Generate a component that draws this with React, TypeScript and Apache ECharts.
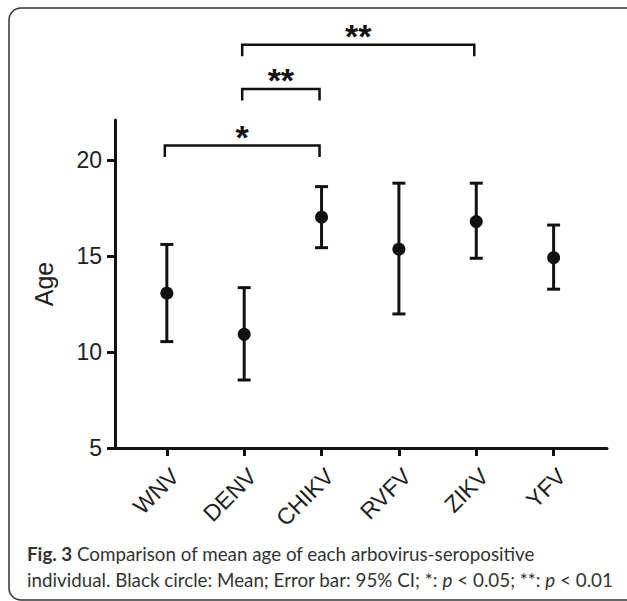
import React, { useEffect, useRef } from 'react';
import * as echarts from 'echarts';

const categories = ['WNV', 'DENV', 'CHIKV', 'RVFV', 'ZIKV', 'YFV'];
const meanAge = [13.06, 10.92, 17.02, 15.35, 16.79, 14.91];
const ciUpper = [15.6, 13.35, 18.61, 18.79, 18.79, 16.61];
const ciLower = [10.54, 8.54, 15.43, 11.98, 14.88, 13.27];
const yTicks = [5, 10, 15, 20];
const xTicks = [0, 1, 2, 3, 4, 5];
const bracketFrom = [0, 1, 1];
const bracketTo = [2, 2, 4];
const bracketLevel = [20.75, 23.7, 26.0];
const bracketMark = ['*', '**', '**'];
const yAxisTitle = 'Age';
const captionLine1 = '{b|Fig. 3} Comparison of mean age of each arbovirus-seropositive';
const captionLine2 = 'individual. Black circle: Mean; Error bar: 95% CI; *: {i|p} < 0.05; **: {i|p} < 0.01';

const INK = '#111';
const AXIS_FONT = 'Liberation Sans';
const CAPTION_FONT = 'Lato';
const CAPTION_SIZE = 18.8;

export default function App() {
  const ref = useRef<HTMLDivElement>(null);
  useEffect(() => {
    if (!ref.current) return;
    const chart = echarts.init(ref.current, undefined, { renderer: 'svg' });
    const option: any = {
      animation: false,
      backgroundColor: '#fff',
      grid: { left: 115, top: 120, width: 492, height: 328, containLabel: false },
      xAxis: {
        type: 'value',
        min: -0.67,
        max: 5.69,
        splitLine: { show: false },
        axisLine: { show: true, onZero: false, lineStyle: { color: INK, width: 3 } },
        axisTick: { show: true, customValues: xTicks, length: 8, lineStyle: { color: INK, width: 3 } },
        axisLabel: {
          customValues: xTicks,
          formatter: (v: number) => categories[Math.round(v)] ?? '',
          rotate: 45,
          align: 'right',
          verticalAlign: 'top',
          margin: 16,
          fontSize: 23,
          fontFamily: AXIS_FONT,
          color: '#222',
        },
      },
      yAxis: {
        type: 'value',
        min: 5,
        max: 22.08,
        interval: 5,
        splitLine: { show: false },
        axisLine: { show: true, onZero: false, lineStyle: { color: INK, width: 3 } },
        axisTick: { show: true, customValues: yTicks, length: 8, lineStyle: { color: INK, width: 3 } },
        axisLabel: {
          customValues: yTicks,
          margin: 13,
          fontSize: 23,
          fontFamily: AXIS_FONT,
          color: '#222',
        },
      },
      graphic: [
        {
          type: 'rect',
          shape: { x: 9, y: 8, width: 700, height: 592, r: 12 },
          style: { fill: 'none', stroke: '#333', lineWidth: 1.5 },
          silent: true,
        },
        {
          type: 'text',
          x: 44,
          y: 284,
          rotation: Math.PI / 2,
          style: {
            text: yAxisTitle,
            fontSize: 25,
            fontFamily: AXIS_FONT,
            fill: '#222',
            align: 'center',
            verticalAlign: 'middle',
          },
        },
        {
          type: 'text',
          x: 27,
          y: 553,
          style: {
            text: captionLine1,
            fontSize: CAPTION_SIZE,
            fontFamily: CAPTION_FONT,
            fill: '#333',
            align: 'left',
            verticalAlign: 'middle',
            rich: {
              b: { fontSize: CAPTION_SIZE, fontFamily: CAPTION_FONT, fontWeight: 'bold', fill: '#333' },
            },
          },
        },
        {
          type: 'text',
          x: 27,
          y: 579,
          style: {
            text: captionLine2,
            fontSize: CAPTION_SIZE,
            fontFamily: CAPTION_FONT,
            fill: '#333',
            align: 'left',
            verticalAlign: 'middle',
            rich: {
              i: { fontSize: CAPTION_SIZE, fontFamily: CAPTION_FONT, fontStyle: 'italic', fill: '#333' },
            },
          },
        },
      ],
      series: [
        {
          type: 'custom',
          name: 'CI',
          data: categories.map((_, i) => [i, ciLower[i], ciUpper[i]]),
          encode: { x: 0, y: [1, 2] },
          renderItem: (_params: any, api: any) => {
            const x = api.value(0);
            const lo = api.coord([x, api.value(1)]);
            const hi = api.coord([x, api.value(2)]);
            const w = 6.5;
            const style = { stroke: INK, lineWidth: 3, fill: 'none' };
            return {
              type: 'group',
              children: [
                { type: 'line', shape: { x1: lo[0], y1: lo[1], x2: hi[0], y2: hi[1] }, style },
                { type: 'line', shape: { x1: hi[0] - w, y1: hi[1], x2: hi[0] + w, y2: hi[1] }, style },
                { type: 'line', shape: { x1: lo[0] - w, y1: lo[1], x2: lo[0] + w, y2: lo[1] }, style },
              ],
            };
          },
          z: 2,
        },
        {
          type: 'scatter',
          name: 'Mean',
          data: categories.map((_, i) => [i, meanAge[i]]),
          symbol: 'circle',
          symbolSize: 13,
          itemStyle: { color: INK, opacity: 1 },
          z: 3,
        },
        {
          type: 'custom',
          name: 'Significance',
          clip: false,
          data: bracketFrom.map((f, i) => [f, bracketTo[i], bracketLevel[i], i]),
          encode: { x: [0, 1], y: 2 },
          renderItem: (_params: any, api: any) => {
            const idx = api.value(3);
            const p1 = api.coord([api.value(0), api.value(2)]);
            const p2 = api.coord([api.value(1), api.value(2)]);
            const leg = 11.5;
            const x1 = p1[0] - 2;
            const x2 = p2[0] - 2;
            const y = p1[1];
            return {
              type: 'group',
              children: [
                {
                  type: 'polyline',
                  shape: { points: [[x1, y + leg], [x1, y], [x2, y], [x2, y + leg]] },
                  style: { stroke: INK, lineWidth: 2.5, fill: 'none' },
                },
                {
                  type: 'text',
                  x: (x1 + x2) / 2,
                  y: y - 9,
                  style: {
                    text: bracketMark[idx],
                    fontSize: 34,
                    fontWeight: 'bold',
                    fontFamily: AXIS_FONT,
                    fill: INK,
                    align: 'center',
                    verticalAlign: 'middle',
                  },
                },
              ],
            };
          },
          z: 2,
        },
      ],
    };
    chart.setOption(option);
    return () => chart.dispose();
  }, []);
  return (
    <div
      ref={ref}
      style={{ position: 'fixed', left: 0, top: 0, width: 627, height: 601, background: '#fff' }}
    />
  );
}
